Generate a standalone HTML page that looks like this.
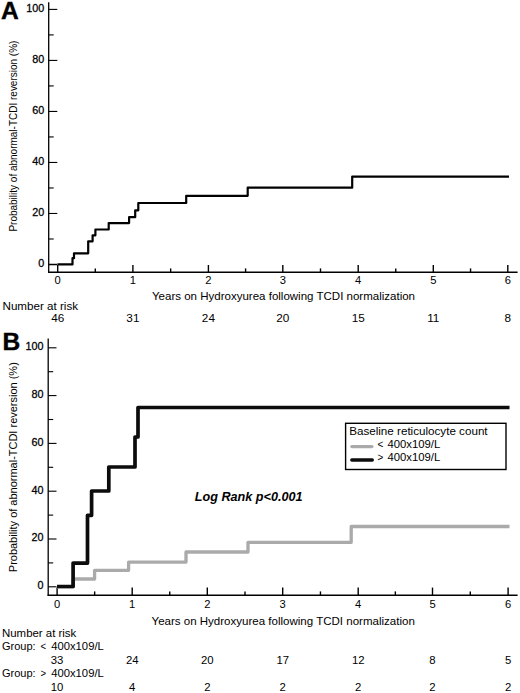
<!DOCTYPE html>
<html><head><meta charset="utf-8"><style>
html,body{margin:0;padding:0;background:#fff;}
body{width:520px;height:693px;overflow:hidden;}
svg{display:block;font-family:"Liberation Sans", sans-serif;}
</style></head><body>
<svg width="520" height="693" viewBox="0 0 520 693" fill="#000">
<rect width="520" height="693" fill="#fff"/>
<line x1="48.70" y1="2.30" x2="48.70" y2="272.85" stroke="#000" stroke-width="1.3"/>
<line x1="48.05" y1="272.20" x2="517.60" y2="272.20" stroke="#000" stroke-width="1.5"/>
<line x1="48.70" y1="264.50" x2="57.30" y2="264.50" stroke="#000" stroke-width="1.5"/>
<text transform="translate(44.30 267.10) scale(1.08 1)" font-size="10" text-anchor="end" stroke="#000" stroke-width="0.25">0</text>
<line x1="48.70" y1="238.99" x2="53.70" y2="238.99" stroke="#000" stroke-width="1.1"/>
<line x1="48.70" y1="213.48" x2="57.30" y2="213.48" stroke="#000" stroke-width="1.1"/>
<text transform="translate(44.30 216.08) scale(1.08 1)" font-size="10" text-anchor="end" stroke="#000" stroke-width="0.25">20</text>
<line x1="48.70" y1="187.97" x2="53.70" y2="187.97" stroke="#000" stroke-width="1.1"/>
<line x1="48.70" y1="162.46" x2="57.30" y2="162.46" stroke="#000" stroke-width="1.1"/>
<text transform="translate(44.30 165.06) scale(1.08 1)" font-size="10" text-anchor="end" stroke="#000" stroke-width="0.25">40</text>
<line x1="48.70" y1="136.95" x2="53.70" y2="136.95" stroke="#000" stroke-width="1.1"/>
<line x1="48.70" y1="111.44" x2="57.30" y2="111.44" stroke="#000" stroke-width="1.1"/>
<text transform="translate(44.30 114.04) scale(1.08 1)" font-size="10" text-anchor="end" stroke="#000" stroke-width="0.25">60</text>
<line x1="48.70" y1="85.93" x2="53.70" y2="85.93" stroke="#000" stroke-width="1.1"/>
<line x1="48.70" y1="60.42" x2="57.30" y2="60.42" stroke="#000" stroke-width="1.1"/>
<text transform="translate(44.30 63.02) scale(1.08 1)" font-size="10" text-anchor="end" stroke="#000" stroke-width="0.25">80</text>
<line x1="48.70" y1="34.91" x2="53.70" y2="34.91" stroke="#000" stroke-width="1.1"/>
<line x1="48.70" y1="9.40" x2="57.30" y2="9.40" stroke="#000" stroke-width="1.1"/>
<text transform="translate(44.30 12.00) scale(1.08 1)" font-size="10" text-anchor="end" stroke="#000" stroke-width="0.25">100</text>
<line x1="57.70" y1="272.20" x2="57.70" y2="265.00" stroke="#000" stroke-width="1.4"/>
<text transform="translate(57.70 283.70) scale(1.12 1)" font-size="10" text-anchor="middle">0</text>
<line x1="95.30" y1="272.20" x2="95.30" y2="268.40" stroke="#000" stroke-width="1.4"/>
<line x1="132.90" y1="272.20" x2="132.90" y2="265.00" stroke="#000" stroke-width="1.4"/>
<text transform="translate(132.90 283.70) scale(1.12 1)" font-size="10" text-anchor="middle">1</text>
<line x1="170.65" y1="272.20" x2="170.65" y2="268.40" stroke="#000" stroke-width="1.4"/>
<line x1="208.40" y1="272.20" x2="208.40" y2="265.00" stroke="#000" stroke-width="1.4"/>
<text transform="translate(208.40 283.70) scale(1.12 1)" font-size="10" text-anchor="middle">2</text>
<line x1="245.60" y1="272.20" x2="245.60" y2="268.40" stroke="#000" stroke-width="1.4"/>
<line x1="282.80" y1="272.20" x2="282.80" y2="265.00" stroke="#000" stroke-width="1.4"/>
<text transform="translate(282.80 283.70) scale(1.12 1)" font-size="10" text-anchor="middle">3</text>
<line x1="320.50" y1="272.20" x2="320.50" y2="268.40" stroke="#000" stroke-width="1.4"/>
<line x1="358.20" y1="272.20" x2="358.20" y2="265.00" stroke="#000" stroke-width="1.4"/>
<text transform="translate(358.20 283.70) scale(1.12 1)" font-size="10" text-anchor="middle">4</text>
<line x1="395.75" y1="272.20" x2="395.75" y2="268.40" stroke="#000" stroke-width="1.4"/>
<line x1="433.30" y1="272.20" x2="433.30" y2="265.00" stroke="#000" stroke-width="1.4"/>
<text transform="translate(433.30 283.70) scale(1.12 1)" font-size="10" text-anchor="middle">5</text>
<line x1="470.55" y1="272.20" x2="470.55" y2="268.40" stroke="#000" stroke-width="1.4"/>
<line x1="507.80" y1="272.20" x2="507.80" y2="265.00" stroke="#000" stroke-width="1.4"/>
<text transform="translate(507.80 283.70) scale(1.12 1)" font-size="10" text-anchor="middle">6</text>
<text x="152.00" y="299.80" font-size="11" textLength="263" lengthAdjust="spacingAndGlyphs">Years on Hydroxyurea following TCDI normalization</text>
<text x="2.50" y="309.50" font-size="10.5" textLength="75.5" lengthAdjust="spacingAndGlyphs">Number at risk</text>
<text transform="translate(57.70 322.30) scale(1.12 1)" font-size="10.5" text-anchor="middle">46</text>
<text transform="translate(132.90 322.30) scale(1.12 1)" font-size="10.5" text-anchor="middle">31</text>
<text transform="translate(208.40 322.30) scale(1.12 1)" font-size="10.5" text-anchor="middle">24</text>
<text transform="translate(282.80 322.30) scale(1.12 1)" font-size="10.5" text-anchor="middle">20</text>
<text transform="translate(358.20 322.30) scale(1.12 1)" font-size="10.5" text-anchor="middle">15</text>
<text transform="translate(433.30 322.30) scale(1.12 1)" font-size="10.5" text-anchor="middle">11</text>
<text transform="translate(507.80 322.30) scale(1.12 1)" font-size="10.5" text-anchor="middle">8</text>
<text x="1.00" y="19.10" font-size="24.6" font-weight="bold" stroke="#000" stroke-width="0.4">A</text>
<text transform="translate(16.6,231.6) rotate(-90)" font-size="10" textLength="191" lengthAdjust="spacingAndGlyphs">Probability of abnormal-TCDI reversion (%)</text>
<path d="M57.50,264.40 L72.50,264.40 L72.50,258.20 L74.00,258.20 L74.00,253.30 L88.20,253.30 L88.20,241.30 L92.60,241.30 L92.60,235.30 L95.40,235.30 L95.40,229.50 L108.70,229.50 L108.70,223.10 L129.10,223.10 L129.10,217.20 L135.20,217.20 L135.20,210.30 L138.30,210.30 L138.30,203.00 L186.20,203.00 L186.20,195.80 L247.70,195.80 L247.70,187.70 L352.20,187.70 L352.20,176.60 L509.00,176.60" fill="none" stroke="#000" stroke-width="2.2" stroke-linejoin="round" stroke-linecap="butt"/>
<line x1="48.20" y1="338.50" x2="48.20" y2="595.85" stroke="#000" stroke-width="1.3"/>
<line x1="47.55" y1="595.20" x2="517.60" y2="595.20" stroke="#000" stroke-width="1.5"/>
<line x1="48.20" y1="586.80" x2="56.50" y2="586.80" stroke="#000" stroke-width="1.1"/>
<text transform="translate(43.40 589.20) scale(1.08 1)" font-size="10" text-anchor="end" stroke="#000" stroke-width="0.25">0</text>
<line x1="48.20" y1="562.90" x2="53.20" y2="562.90" stroke="#000" stroke-width="1.1"/>
<line x1="48.20" y1="539.00" x2="56.50" y2="539.00" stroke="#000" stroke-width="1.1"/>
<text transform="translate(43.40 541.40) scale(1.08 1)" font-size="10" text-anchor="end" stroke="#000" stroke-width="0.25">20</text>
<line x1="48.20" y1="515.10" x2="53.20" y2="515.10" stroke="#000" stroke-width="1.1"/>
<line x1="48.20" y1="491.20" x2="56.50" y2="491.20" stroke="#000" stroke-width="1.1"/>
<text transform="translate(43.40 493.60) scale(1.08 1)" font-size="10" text-anchor="end" stroke="#000" stroke-width="0.25">40</text>
<line x1="48.20" y1="467.30" x2="53.20" y2="467.30" stroke="#000" stroke-width="1.1"/>
<line x1="48.20" y1="443.40" x2="56.50" y2="443.40" stroke="#000" stroke-width="1.1"/>
<text transform="translate(43.40 445.80) scale(1.08 1)" font-size="10" text-anchor="end" stroke="#000" stroke-width="0.25">60</text>
<line x1="48.20" y1="419.50" x2="53.20" y2="419.50" stroke="#000" stroke-width="1.1"/>
<line x1="48.20" y1="395.60" x2="56.50" y2="395.60" stroke="#000" stroke-width="1.1"/>
<text transform="translate(43.40 398.00) scale(1.08 1)" font-size="10" text-anchor="end" stroke="#000" stroke-width="0.25">80</text>
<line x1="48.20" y1="371.70" x2="53.20" y2="371.70" stroke="#000" stroke-width="1.1"/>
<line x1="48.20" y1="347.80" x2="56.50" y2="347.80" stroke="#000" stroke-width="1.1"/>
<text transform="translate(43.40 350.20) scale(1.08 1)" font-size="10" text-anchor="end" stroke="#000" stroke-width="0.25">100</text>
<line x1="57.10" y1="595.20" x2="57.10" y2="587.60" stroke="#000" stroke-width="1.4"/>
<text transform="translate(57.10 607.50) scale(1.12 1)" font-size="10" text-anchor="middle">0</text>
<line x1="94.65" y1="595.20" x2="94.65" y2="591.40" stroke="#000" stroke-width="1.4"/>
<line x1="132.20" y1="595.20" x2="132.20" y2="587.60" stroke="#000" stroke-width="1.4"/>
<text transform="translate(132.20 607.50) scale(1.12 1)" font-size="10" text-anchor="middle">1</text>
<line x1="169.75" y1="595.20" x2="169.75" y2="591.40" stroke="#000" stroke-width="1.4"/>
<line x1="207.30" y1="595.20" x2="207.30" y2="587.60" stroke="#000" stroke-width="1.4"/>
<text transform="translate(207.30 607.50) scale(1.12 1)" font-size="10" text-anchor="middle">2</text>
<line x1="245.00" y1="595.20" x2="245.00" y2="591.40" stroke="#000" stroke-width="1.4"/>
<line x1="282.70" y1="595.20" x2="282.70" y2="587.60" stroke="#000" stroke-width="1.4"/>
<text transform="translate(282.70 607.50) scale(1.12 1)" font-size="10" text-anchor="middle">3</text>
<line x1="320.45" y1="595.20" x2="320.45" y2="591.40" stroke="#000" stroke-width="1.4"/>
<line x1="358.20" y1="595.20" x2="358.20" y2="587.60" stroke="#000" stroke-width="1.4"/>
<text transform="translate(358.20 607.50) scale(1.12 1)" font-size="10" text-anchor="middle">4</text>
<line x1="395.35" y1="595.20" x2="395.35" y2="591.40" stroke="#000" stroke-width="1.4"/>
<line x1="432.50" y1="595.20" x2="432.50" y2="587.60" stroke="#000" stroke-width="1.4"/>
<text transform="translate(432.50 607.50) scale(1.12 1)" font-size="10" text-anchor="middle">5</text>
<line x1="470.30" y1="595.20" x2="470.30" y2="591.40" stroke="#000" stroke-width="1.4"/>
<line x1="508.10" y1="595.20" x2="508.10" y2="587.60" stroke="#000" stroke-width="1.4"/>
<text transform="translate(508.10 607.50) scale(1.12 1)" font-size="10" text-anchor="middle">6</text>
<text x="151.50" y="624.80" font-size="11" textLength="263.3" lengthAdjust="spacingAndGlyphs">Years on Hydroxyurea following TCDI normalization</text>
<text x="2.50" y="350.10" font-size="24.6" font-weight="bold" stroke="#000" stroke-width="0.4">B</text>
<text transform="translate(16.5,572.2) rotate(-90)" font-size="10.3" textLength="210" lengthAdjust="spacingAndGlyphs">Probability of abnormal-TCDI reversion (%)</text>
<path d="M57.00,586.80 L73.00,586.80 L73.00,579.00 L94.60,579.00 L94.60,570.30 L128.60,570.30 L128.60,562.10 L186.00,562.10 L186.00,552.00 L248.00,552.00 L248.00,542.30 L351.20,542.30 L351.20,526.50 L509.50,526.50" fill="none" stroke="#aaaaaa" stroke-width="3.3" stroke-linejoin="round" stroke-linecap="butt"/>
<path d="M57.00,586.50 L73.10,586.50 L73.10,563.10 L87.50,563.10 L87.50,515.30 L91.60,515.30 L91.60,491.00 L108.80,491.00 L108.80,467.00 L135.00,467.00 L135.00,437.00 L138.00,437.00 L138.00,407.50 L509.50,407.50" fill="none" stroke="#0c0c0c" stroke-width="3.7" stroke-linejoin="round" stroke-linecap="butt"/>
<rect x="345.6" y="423.3" width="160.4" height="46.2" fill="#fff" stroke="#000" stroke-width="1.4"/>
<text x="349.20" y="434.90" font-size="10.5" textLength="138.4" lengthAdjust="spacingAndGlyphs">Baseline reticulocyte count</text>
<line x1="351.9" y1="446.6" x2="371.9" y2="446.6" stroke="#aaaaaa" stroke-width="3.3" stroke-linecap="round"/>
<line x1="351.9" y1="460.0" x2="372.2" y2="460.0" stroke="#0c0c0c" stroke-width="3.6" stroke-linecap="round"/>
<text x="377.40" y="448.40" font-size="10.5" textLength="5.8" lengthAdjust="spacingAndGlyphs">&lt;</text>
<text x="387.50" y="448.40" font-size="10.5" textLength="52.8" lengthAdjust="spacingAndGlyphs">400x109/L</text>
<text x="377.40" y="461.20" font-size="10.5" textLength="5.8" lengthAdjust="spacingAndGlyphs">&gt;</text>
<text x="387.50" y="461.20" font-size="10.5" textLength="52.8" lengthAdjust="spacingAndGlyphs">400x109/L</text>
<text x="194.80" y="501.00" font-size="12.5" font-weight="bold" font-style="italic" textLength="107.8" lengthAdjust="spacingAndGlyphs">Log Rank p&lt;0.001</text>
<text x="2.00" y="636.80" font-size="10.5" textLength="74.3" lengthAdjust="spacingAndGlyphs">Number at risk</text>
<text x="2.00" y="650.30" font-size="10.5" textLength="33.6" lengthAdjust="spacingAndGlyphs">Group:</text>
<text x="40.60" y="650.30" font-size="10.5" textLength="5.6" lengthAdjust="spacingAndGlyphs">&lt;</text>
<text x="51.20" y="650.30" font-size="10.5" textLength="52.6" lengthAdjust="spacingAndGlyphs">400x109/L</text>
<text x="2.00" y="677.30" font-size="10.5" textLength="33.6" lengthAdjust="spacingAndGlyphs">Group:</text>
<text x="40.60" y="677.30" font-size="10.5" textLength="5.6" lengthAdjust="spacingAndGlyphs">&gt;</text>
<text x="51.20" y="677.30" font-size="10.5" textLength="52.6" lengthAdjust="spacingAndGlyphs">400x109/L</text>
<text transform="translate(57.10 663.80) scale(1.08 1)" font-size="10.5" text-anchor="middle">33</text>
<text transform="translate(132.20 663.80) scale(1.08 1)" font-size="10.5" text-anchor="middle">24</text>
<text transform="translate(207.30 663.80) scale(1.08 1)" font-size="10.5" text-anchor="middle">20</text>
<text transform="translate(282.70 663.80) scale(1.08 1)" font-size="10.5" text-anchor="middle">17</text>
<text transform="translate(358.20 663.80) scale(1.08 1)" font-size="10.5" text-anchor="middle">12</text>
<text transform="translate(432.50 663.80) scale(1.08 1)" font-size="10.5" text-anchor="middle">8</text>
<text transform="translate(508.10 663.80) scale(1.08 1)" font-size="10.5" text-anchor="middle">5</text>
<text transform="translate(57.10 690.50) scale(1.08 1)" font-size="10.5" text-anchor="middle">10</text>
<text transform="translate(132.20 690.50) scale(1.08 1)" font-size="10.5" text-anchor="middle">4</text>
<text transform="translate(207.30 690.50) scale(1.08 1)" font-size="10.5" text-anchor="middle">2</text>
<text transform="translate(282.70 690.50) scale(1.08 1)" font-size="10.5" text-anchor="middle">2</text>
<text transform="translate(358.20 690.50) scale(1.08 1)" font-size="10.5" text-anchor="middle">2</text>
<text transform="translate(432.50 690.50) scale(1.08 1)" font-size="10.5" text-anchor="middle">2</text>
<text transform="translate(508.10 690.50) scale(1.08 1)" font-size="10.5" text-anchor="middle">2</text>
</svg>
</body></html>
